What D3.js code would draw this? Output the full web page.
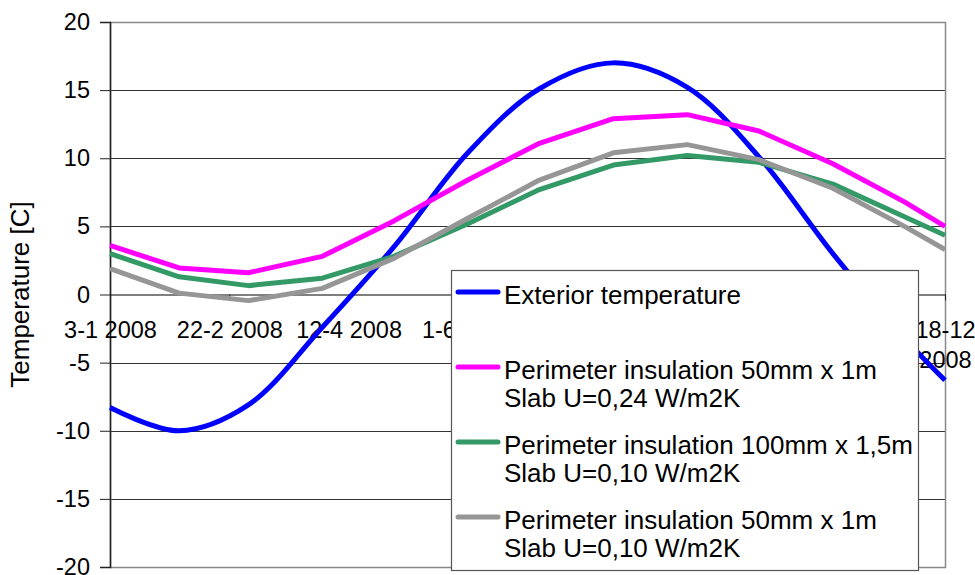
<!DOCTYPE html>
<html><head><meta charset="utf-8">
<script src="https://cdn.jsdelivr.net/npm/d3@7"></script>
<style>
body{margin:0;background:#fff;}
svg{display:block;font-family:"Liberation Sans",Arial,sans-serif;}
</style></head><body>
<svg id="chart" width="975" height="575"></svg>
<script>
// ---- data ----
const dates = ["2008-01-03","2008-02-01","2008-03-01","2008-04-01","2008-05-01","2008-06-01","2008-07-01","2008-08-01","2008-09-01","2008-10-01","2008-11-01","2008-12-01","2008-12-18"];
const exterior = [-8.3,-10.0,-8.1,-2.4,3.5,10.4,15.1,17.0,15.2,10.1,3.0,-3.2,-6.3];
const perim50Slab24 = [3.6,1.95,1.6,2.8,5.4,8.4,11.1,12.9,13.2,12.0,9.6,6.8,5.0];
const perim100Slab10 = [3.0,1.3,0.65,1.2,2.8,5.2,7.7,9.5,10.2,9.7,8.1,5.7,4.35];
const perim50Slab10 = [1.9,0.1,-0.45,0.45,2.65,5.6,8.4,10.4,11.0,9.9,7.8,5.0,3.3];
const seriesLabels = [
  ["Exterior temperature"],
  ["Perimeter insulation 50mm x 1m","Slab U=0,24 W/m2K"],
  ["Perimeter insulation 100mm x 1,5m","Slab U=0,10 W/m2K"],
  ["Perimeter insulation 50mm x 1m","Slab U=0,10 W/m2K"]
];
const seriesColors = ["#0000ff","#ff00ff","#339966","#969696"];
const tickDates = ["2008-01-03","2008-02-22","2008-04-12","2008-06-01","2008-07-21","2008-09-09","2008-10-29","2008-12-18"];
const tickLabels = [["3-1 2008"],["22-2 2008"],["12-4 2008"],["1-6 2008"],["21-7 2008"],["9-9 2008"],["29-10 2008"],["18-12","2008"]];
const yTicks = [-20,-15,-10,-5,0,5,10,15,20];
const yTitle = "Temperature [C]";

// ---- layout ----
const parse = d3.utcParse("%Y-%m-%d");
const L = 110, R = 945, T = 22, B = 567;
const svg = d3.select("#chart");
const x = d3.scaleUtc().domain([parse(dates[0]), parse(dates[dates.length-1])]).range([L, R]);
const y = d3.scaleLinear().domain([-20, 20]).range([B, T]);

// gridlines
svg.append("g").selectAll("line").data(yTicks.filter(v => v !== 0 && v !== 20 && v !== -20)).join("line")
  .attr("x1", L).attr("x2", R).attr("y1", d => Math.round(y(d)) + 0.5).attr("y2", d => Math.round(y(d)) + 0.5)
  .attr("stroke", "#333").attr("stroke-width", 1);

// plot border
svg.append("rect").attr("x", L + 0.5).attr("y", Math.round(T) + 0.5).attr("width", R - L).attr("height", Math.round(B) - Math.round(T))
  .attr("fill", "none").attr("stroke", "#888").attr("stroke-width", 1.5);

// y axis
const gy = svg.append("g").attr("transform", `translate(${L},0)`)
  .call(d3.axisLeft(y).tickValues(yTicks).tickSize(10).tickPadding(10).tickFormat(d => String(d)));
gy.select(".domain").attr("stroke", "#222").attr("stroke-width", 1.5);
gy.selectAll(".tick line").attr("stroke", "#222");
gy.selectAll(".tick text").attr("font-size", "23.5px").attr("fill", "#000").attr("font-family", null);

// x axis at zero
const gx = svg.append("g").attr("transform", `translate(0,${y(0)})`)
  .call(d3.axisBottom(x).tickValues(tickDates.map(parse)).tickSize(6).tickSizeOuter(0).tickFormat(""));
gx.select(".domain").attr("stroke", "#000").attr("stroke-width", 1.2);
gx.selectAll(".tick line").attr("stroke", "#222");
gx.selectAll(".tick").each(function(d, i) {
  const t = d3.select(this).append("text").attr("fill", "#000").attr("font-size", "23.5px").attr("text-anchor", "middle");
  tickLabels[i].forEach((line, k) => t.append("tspan").attr("x", 0).attr("y", 43 + k * 30).text(line));
});

// y title
svg.append("text").attr("transform", `translate(29,${(T + B) / 2}) rotate(-90)`)
  .attr("text-anchor", "middle").attr("font-size", "26px").attr("fill", "#000").text(yTitle);

// series
const series = [exterior, perim50Slab24, perim100Slab10, perim50Slab10];
const pts = vals => vals.map((v, i) => [x(parse(dates[i])), y(v)]);
series.forEach((vals, si) => {
  const line = d3.line().curve(si === 0 ? d3.curveCatmullRom.alpha(0.5) : d3.curveLinear);
  svg.append("path").attr("d", line(pts(vals))).attr("fill", "none")
    .attr("stroke", seriesColors[si]).attr("stroke-width", 5).attr("stroke-linejoin", "round");
});

// legend
const lg = svg.append("g").attr("transform", "translate(451,270)");
lg.append("rect").attr("x", 0.5).attr("y", 0.5).attr("width", 467).attr("height", 300)
  .attr("fill", "#fff").attr("stroke", "#555").attr("stroke-width", 1.2);
seriesLabels.forEach((lines, i) => {
  const cy = 22 + i * 75;
  lg.append("line").attr("x1", 7).attr("x2", 47).attr("y1", cy).attr("y2", cy)
    .attr("stroke", seriesColors[i]).attr("stroke-width", 5).attr("stroke-linecap", "round");
  const t = lg.append("text").attr("font-size", "26px").attr("fill", "#000");
  lines.forEach((line, k) => t.append("tspan").attr("x", 53).attr("y", cy + 12 + k * 28.3).text(line));
});
</script>
</body></html>
